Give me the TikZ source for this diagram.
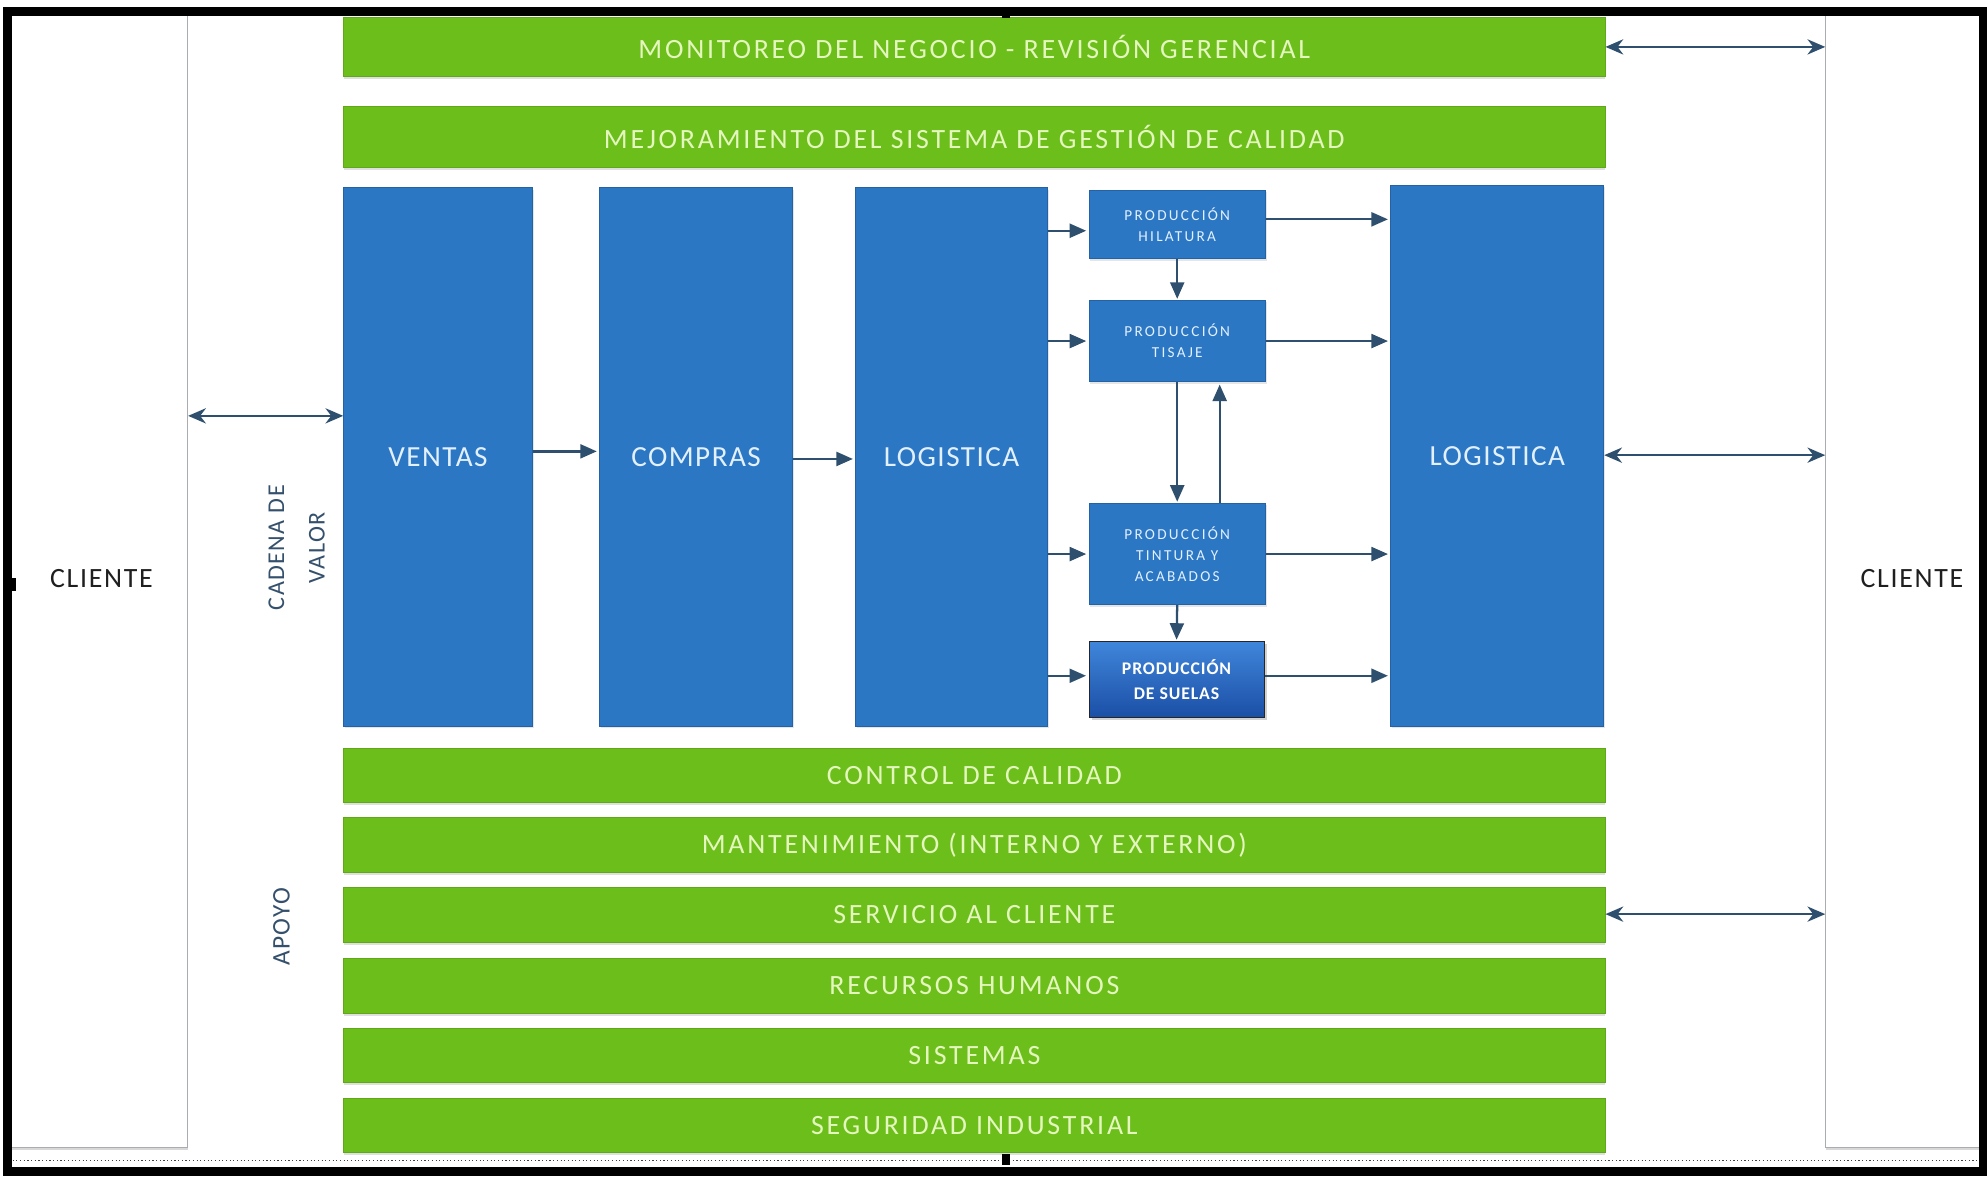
\documentclass[tikz,border=0pt]{standalone}
\usepackage{fontspec}
\setmainfont{Carlito}
\newfontfamily\barfont{Carlito}[LetterSpace=10]
\newfontfamily\boxfont{Carlito}[LetterSpace=5]
\newfontfamily\tinyfont{Carlito}[LetterSpace=15]
\newfontfamily\solefont{Carlito}[LetterSpace=5]
\newfontfamily\labelfont{Carlito}[LetterSpace=6]
\newfontfamily\sidefont{Carlito}[LetterSpace=6]
\usetikzlibrary{arrows.meta,shadows,calc}

\definecolor{bargreen}{HTML}{6CBE1A}
\definecolor{baredge}{HTML}{5FA817}
\definecolor{bartext}{HTML}{E4F6BE}
\definecolor{boxblue}{HTML}{2B77C3}
\definecolor{boxedge}{HTML}{2462A6}
\definecolor{boxtext}{HTML}{E2F0FF}
\definecolor{arrowc}{HTML}{2E4F6E}
\definecolor{panelgray}{HTML}{A9ADB2}
\definecolor{sidetext}{HTML}{34506C}
\definecolor{soletop}{HTML}{3F86DA}
\definecolor{solebottom}{HTML}{1B4FA6}

\tikzset{
  bar/.style={fill=bargreen, draw=baredge, line width=0.6pt, minimum width=995pt,
    inner sep=0pt, text=bartext, font=\barfont\fontsize{22}{24}\selectfont,
    drop shadow={shadow xshift=0pt, shadow yshift=-2pt, opacity=0.25}},
  bigbox/.style={fill=boxblue, draw=boxedge, line width=0.6pt, inner sep=0pt,
    text=boxtext, font=\boxfont\fontsize{23}{26}\selectfont,
    drop shadow={shadow xshift=1pt, shadow yshift=-1.5pt, opacity=0.2}},
  smallbox/.style={fill=boxblue, draw=boxedge, line width=0.6pt, minimum width=139pt,
    inner sep=0pt, align=center, text=boxtext,
    font=\tinyfont\fontsize{12}{16.5}\selectfont,
    drop shadow={shadow xshift=1pt, shadow yshift=-1.5pt, opacity=0.2}},
  solebox/.style={top color=soletop, bottom color=solebottom, draw=black!85,
    line width=0.9pt, minimum width=138pt, inner sep=0pt, align=center, text=white,
    font=\solefont\bfseries\fontsize{14}{20}\selectfont,
    drop shadow={shadow xshift=2pt, shadow yshift=-2pt, opacity=0.35}},
  panel/.style={fill=white, draw=panelgray, line width=0.8pt, inner sep=0pt,
    drop shadow={shadow xshift=0pt, shadow yshift=-2pt, opacity=0.3}},
  arr/.style={draw=arrowc, line width=1.8pt, -{Triangle[length=13pt,width=11pt]}},
  darr/.style={draw=arrowc, line width=1.8pt,
    {Stealth[length=14pt,width=12pt]}-{Stealth[length=14pt,width=12pt]}},
}

\begin{document}
\begin{tikzpicture}[x=1pt,y=-1pt]
\useasboundingbox (0,0) rectangle (1568,928);
\fill[white] (0,0) rectangle (1568,928);

% customer panels at both sides
\node[panel, minimum width=145pt, minimum height=897pt] (clL) at (75.5,456.5) {};
\node[panel, minimum width=125pt, minimum height=897pt] (clR) at (1502.5,456.5) {};
\node[text=black!88, font=\labelfont\fontsize{22}{24}\selectfont] (tL) at (80,456) {CLIENTE};
\node[text=black!88, font=\labelfont\fontsize{22}{24}\selectfont] (tR) at (1508,456) {CLIENTE};

% management and support bars
\node[bar, minimum height=46pt] (mon) at (768.5,37) {MONITOREO DEL NEGOCIO - REVISIÓN GERENCIAL};
\node[bar, minimum height=48pt] (mej) at (768.5,108) {MEJORAMIENTO DEL SISTEMA DE GESTIÓN DE CALIDAD};
\node[bar, minimum height=43pt] (ctrl) at (768.5,611.5) {CONTROL DE CALIDAD};
\node[bar, minimum height=43pt] (mant) at (768.5,666.5) {MANTENIMIENTO (INTERNO Y EXTERNO)};
\node[bar, minimum height=43pt] (serv) at (768.5,721.5) {SERVICIO AL CLIENTE};
\node[bar, minimum height=43pt] (rrhh) at (768.5,777.5) {RECURSOS HUMANOS};
\node[bar, minimum height=43pt] (sist) at (768.5,832.5) {SISTEMAS};
\node[bar, minimum height=43pt] (seg) at (768.5,887.5) {SEGURIDAD INDUSTRIAL};

% value chain
\node[bigbox, minimum width=149pt, minimum height=425pt] (ventas) at (345.5,360.5) {VENTAS};
\node[bigbox, minimum width=152pt, minimum height=425pt] (compras) at (549,360.5) {COMPRAS};
\node[bigbox, minimum width=151pt, minimum height=425pt] (log1) at (750.5,360.5) {LOGISTICA};
\node[bigbox, minimum width=168pt, minimum height=427pt] (log2) at (1181,359.5) {LOGISTICA};

\node[smallbox, minimum height=54pt] (hil) at (928.5,177) {PRODUCCIÓN\\HILATURA};
\node[smallbox, minimum height=64pt] (tis) at (928.5,269) {PRODUCCIÓN\\TISAJE};
\node[smallbox, minimum height=80pt] (tin) at (928.5,437) {PRODUCCIÓN\\TINTURA Y\\ACABADOS};
\node[solebox, minimum height=60pt] (sue) at (928,536) {PRODUCCIÓN\\DE SUELAS};

% side labels
\node[rotate=90, align=center, text=sidetext, font=\sidefont\fontsize{19}{32}\selectfont] (cad) at (234,432) {CADENA DE\\VALOR};
\node[rotate=90, text=sidetext, font=\sidefont\fontsize{20}{22}\selectfont] (apo) at (222,731) {APOYO};

% connectors
\draw[darr] (clL.east |- 0,328) -- (ventas.west |- 0,328);
\draw[arr] (ventas.east |- 0,356) -- ([xshift=-2pt]compras.west |- 0,356);
\draw[arr] (compras.east |- 0,362) -- ([xshift=-2pt]log1.west |- 0,362);

\draw[arr] (log1.east |- 0,182) -- ([xshift=-2pt]hil.west |- 0,182);
\draw[arr] (log1.east |- 0,269) -- ([xshift=-2pt]tis.west |- 0,269);
\draw[arr] (log1.east |- 0,437) -- ([xshift=-2pt]tin.west |- 0,437);
\draw[arr] (log1.east |- 0,533) -- ([xshift=-2pt]sue.west |- 0,533);

\draw[arr] (hil.east |- 0,173) -- ([xshift=-2pt]log2.west |- 0,173);
\draw[arr] (tis.east |- 0,269) -- ([xshift=-2pt]log2.west |- 0,269);
\draw[arr] (tin.east |- 0,437) -- ([xshift=-2pt]log2.west |- 0,437);
\draw[arr] (sue.east |- 0,533) -- ([xshift=-2pt]log2.west |- 0,533);

\draw[arr] (hil.south) -- ([yshift=1pt]tis.north);
\draw[arr] (tis.south) -- ([yshift=1pt]tin.north);
\draw[arr] ([xshift=33.5pt]tin.north) -- ([xshift=33.5pt,yshift=-2pt]tis.south);
\draw[arr] (tin.south) -- ([yshift=1pt]sue.north);

\draw[darr] (log2.east |- 0,359) -- (clR.west |- 0,359);
\draw[darr] (mon.east |- 0,37) -- (clR.west |- 0,37);
\draw[darr] (serv.east |- 0,721) -- (clR.west |- 0,721);

% page frame, selection handles and dotted guide
\draw[black!75, dotted, line width=0.9pt] (10,915) -- (1560,915);
\draw[black, line width=7pt] (6,9) rectangle (1564,924);
\fill[black] (790,6) rectangle (797,14);
\fill[black] (790,910) rectangle (797,919);
\fill[black] (7,456) rectangle (13,466);
\end{tikzpicture}
\end{document}
